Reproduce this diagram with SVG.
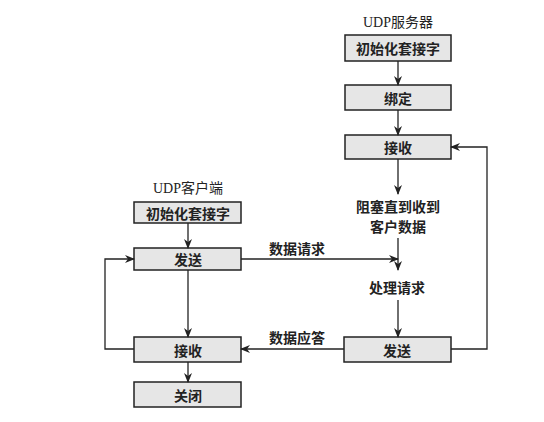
<svg xmlns="http://www.w3.org/2000/svg" width="544" height="422" viewBox="0 0 544 422">
<defs>
<marker id="ah" markerWidth="10" markerHeight="8" refX="9" refY="4" orient="auto" markerUnits="userSpaceOnUse">
<path d="M0,0 L10,4 L0,8 L3,4 Z" fill="#222"/>
</marker>
<style>
.box{fill:#e6e6e6;stroke:#222;stroke-width:1.5}
.t{font-family:"Noto Sans CJK SC","Noto Sans",sans-serif;font-size:14px;font-weight:bold;fill:#222;text-anchor:middle;dominant-baseline:central}
.h{font-family:"Liberation Serif","Noto Sans CJK SC",serif;font-size:14px;fill:#222;text-anchor:middle;dominant-baseline:central}
.c{fill:none;stroke:#222;stroke-width:1.3}
</style>
</defs>
<rect width="544" height="422" fill="#fff"/>
<text class="h" x="398" y="22">UDP服务器</text>
<text class="h" x="188" y="188">UDP客户端</text>
<g id="s_init"><rect class="box" x="345" y="35" width="106" height="26"/><text class="t" x="398" y="48">初始化套接字</text></g>
<g id="s_bind"><rect class="box" x="345" y="85" width="106" height="25"/><text class="t" x="398" y="97.5">绑定</text></g>
<g id="s_recv"><rect class="box" x="345" y="135" width="106" height="24"/><text class="t" x="398" y="147">接收</text></g>
<g id="s_block"><text class="t" x="398" y="206">阻塞直到收到</text><text class="t" x="398" y="226">客户数据</text></g>
<g id="s_proc"><text class="t" x="397" y="287">处理请求</text></g>
<g id="s_send"><rect class="box" x="344" y="337" width="107" height="25"/><text class="t" x="397" y="349.5">发送</text></g>
<g id="c_init"><rect class="box" x="134" y="202" width="107" height="21"/><text class="t" x="188" y="212.5">初始化套接字</text></g>
<g id="c_send"><rect class="box" x="134" y="248" width="107" height="22"/><text class="t" x="188" y="259">发送</text></g>
<g id="c_recv"><rect class="box" x="134" y="337" width="107" height="25"/><text class="t" x="188" y="349.5">接收</text></g>
<g id="c_close"><rect class="box" x="134" y="382" width="107" height="25"/><text class="t" x="188" y="394.5">关闭</text></g>
<g id="connectors">
<path class="c" d="M398,61 V85" marker-end="url(#ah)"/>
<path class="c" d="M398,110 V135" marker-end="url(#ah)"/>
<path class="c" d="M398,159 V194" marker-end="url(#ah)"/>
<path class="c" d="M398,238 V270" marker-end="url(#ah)"/>
<path class="c" d="M398,300 V337" marker-end="url(#ah)"/>
<path class="c" d="M451,349 H487 V147 H451" marker-end="url(#ah)"/>
<path class="c" d="M241,259 H398" marker-end="url(#ah)"/>
<path class="c" d="M344,349 H241" marker-end="url(#ah)"/>
<path class="c" d="M188,223 V248" marker-end="url(#ah)"/>
<path class="c" d="M188,270 V337" marker-end="url(#ah)"/>
<path class="c" d="M188,362 V382" marker-end="url(#ah)"/>
<path class="c" d="M134,349 H105 V259 H134" marker-end="url(#ah)"/>
<text class="t" x="297" y="248">数据请求</text>
<text class="t" x="297" y="337">数据应答</text>
</g>
</svg>
